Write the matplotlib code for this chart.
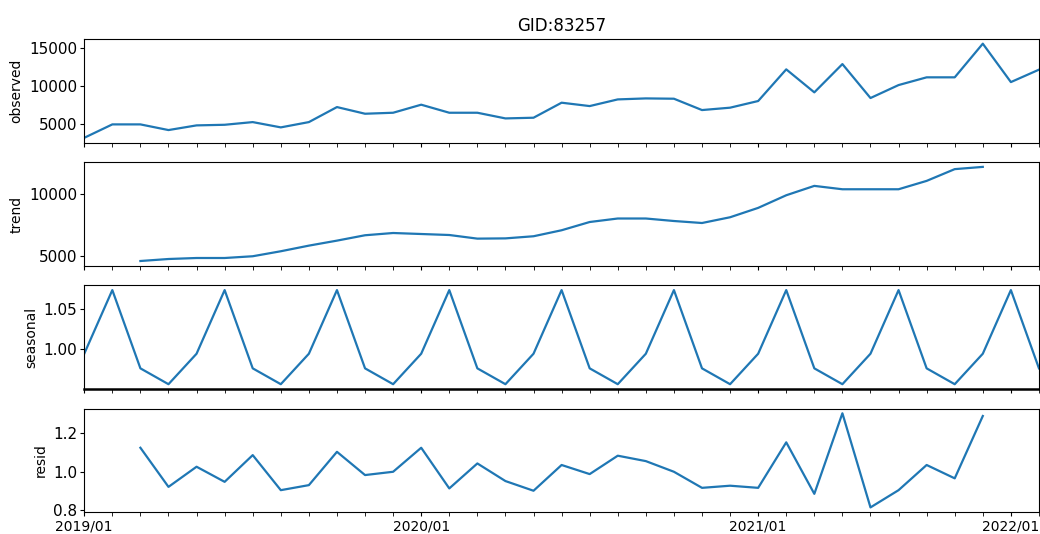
import matplotlib
matplotlib.use("Agg")
import matplotlib.pyplot as plt
import numpy as np

# monthly-ish series, index positions 0..34
observed = [3250, 5000, 5000, 4260, 4870, 4950, 5300, 4610, 5300, 7260,
            6390, 6520, 7570, 6520, 6520, 5780, 5870, 7830, 7390, 8260,
            8390, 8350, 6870, 7180, 8050, 12180, 9180, 12870, 8440, 10130,
            11140, 11140, 15530, 10520, 12140]

# trend / resid only exist from index 2 to 32 (centred moving average)
trend = [4600, 4760, 4840, 4840, 4980, 5380, 5830, 6230, 6660, 6840,
         6760, 6680, 6390, 6410, 6580, 7060, 7720, 8000, 8000, 7800,
         7640, 8100, 8850, 9860, 10610, 10340, 10340, 10340, 11010, 11950,
         12130]

seasonal = [0.9946, 1.0729, 0.9766, 0.9571, 0.9946, 1.0729, 0.9766, 0.9571,
            0.9946, 1.0729, 0.9766, 0.9571, 0.9946, 1.0729, 0.9766, 0.9571,
            0.9946, 1.0729, 0.9766, 0.9571, 0.9946, 1.0729, 0.9766, 0.9571,
            0.9946, 1.0729, 0.9766, 0.9571, 0.9946, 1.0729, 0.9766, 0.9571,
            0.9946, 1.0729, 0.9766]

resid = [1.124, 0.922, 1.026, 0.948, 1.086, 0.905, 0.931, 1.103, 0.983, 1.000,
         1.124, 0.914, 1.043, 0.952, 0.902, 1.035, 0.988, 1.083, 1.055, 1.000,
         0.917, 0.928, 0.917, 1.152, 0.886, 1.302, 0.816, 0.905, 1.035, 0.966,
         1.288]

tick_pos = [0, 12, 24, 33]
tick_labels = ["2019/01", "2020/01", "2021/01", "2022/01"]

plt.rcParams["font.size"] = 10
plt.rcParams["ytick.labelsize"] = 11
plt.rcParams["lines.linewidth"] = 1.6
plt.rcParams["xtick.major.size"] = 3
plt.rcParams["ytick.major.size"] = 3
plt.rcParams["xtick.major.pad"] = 2
plt.rcParams["ytick.major.pad"] = 2

x_full = np.arange(len(observed))
x_mid = np.arange(2, 2 + len(trend))

fig, axes = plt.subplots(4, 1, figsize=(10.4, 5.34), dpi=100, sharex=True)
fig.subplots_adjust(left=0.081, right=0.999, top=0.927, bottom=0.041, hspace=0.19)

panels = [(observed, x_full, "observed"),
          (trend, x_mid, "trend"),
          (seasonal, x_full, "seasonal"),
          (resid, x_mid, "resid")]

for ax, (vals, xs, name) in zip(axes, panels):
    ax.plot(xs, vals, color="#1f77b4")
    ax.set_ylabel(name)
    ax.set_xticks(tick_pos)
    ax.set_xticks(x_full, minor=True)
    ax.tick_params(axis="x", which="minor", length=3)

axes[0].set_title("GID:83257")
axes[0].set_yticks([5000, 10000, 15000])
axes[1].set_yticks([5000, 10000])
axes[2].set_yticks([1.00, 1.05])
axes[2].spines["bottom"].set_linewidth(1.8)
axes[3].set_yticks([0.8, 1.0, 1.2])
axes[3].set_xticklabels(tick_labels)
axes[3].set_xlim(0, len(observed) - 1)

fig.savefig("out.png", dpi=100)
